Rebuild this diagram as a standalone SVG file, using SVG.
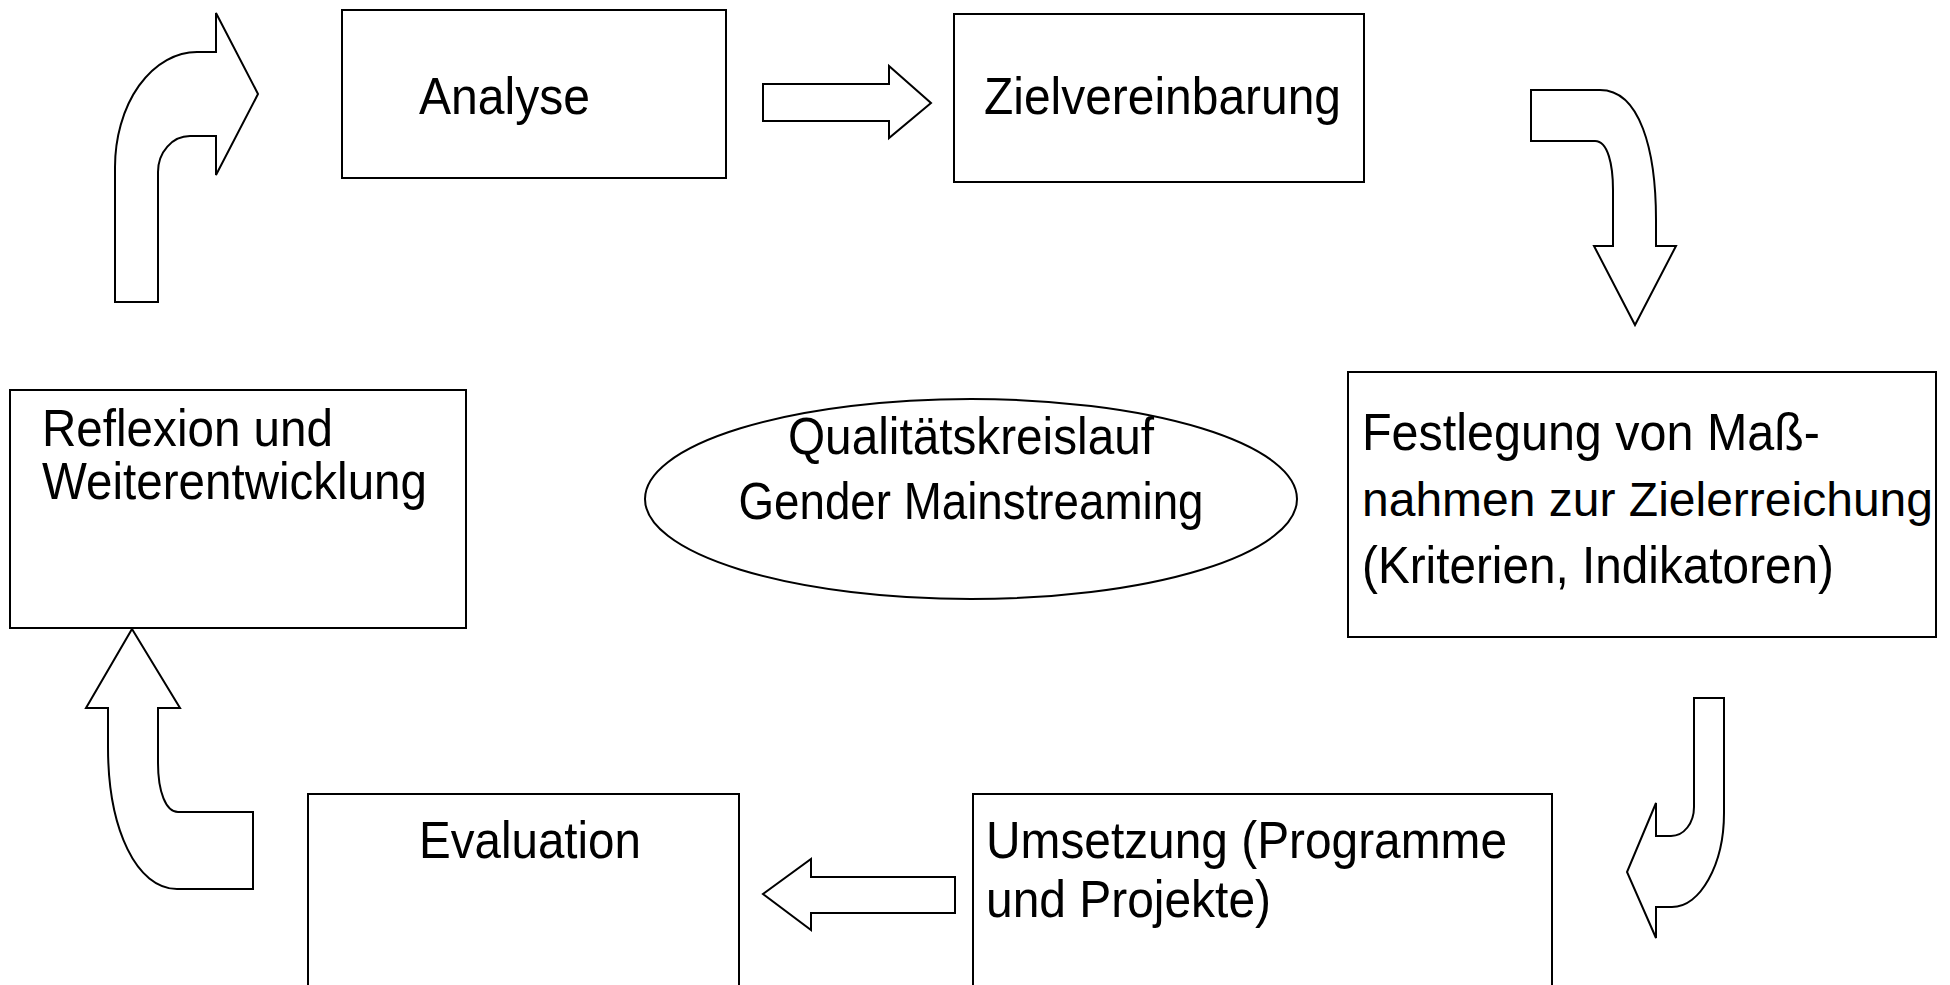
<svg xmlns="http://www.w3.org/2000/svg" width="1950" height="985" viewBox="0 0 1950 985">
<style>
.box{fill:#fff;stroke:#000;stroke-width:2}
.arrow{fill:#fff;stroke:#000;stroke-width:2;stroke-linejoin:miter}
text{font-family:"Liberation Sans",Arial,sans-serif;font-size:52px;fill:#000}
.c{text-anchor:middle}
.s{font-size:48px}
</style>
<rect width="1950" height="985" fill="#fff"/>
<g id="connectors">
<path class="arrow" d="M115,302 L158,302 L158,172 A32,36 0 0 1 190,136 L216,136 L216,175 L258,94 L216,13 L216,52 L197,52 A82,115 0 0 0 115,167 Z"/>
<path class="arrow" d="M763,84 L889,84 L889,66 L931,103 L889,138 L889,121 L763,121 Z"/>
<path class="arrow" d="M1531,90 L1600,90 C1640,90 1656,150 1656,220 L1656,246 L1676,246 L1635,325 L1594,246 L1613,246 L1613,190 C1613,165 1608,141 1595,141 L1531,141 Z"/>
<path class="arrow" d="M1694,698 L1724,698 L1724,813 C1724,865 1700,907 1672,907 L1656,907 L1656,938 L1627,872 L1656,803 L1656,836 L1671,836 C1684,836 1694,823 1694,807 Z"/>
<path class="arrow" d="M955,877 L811,877 L811,859 L763,894 L811,930 L811,913 L955,913 Z"/>
<path class="arrow" d="M132,629 L180,708 L158,708 L158,763 C158,792 166,812 178,812 L253,812 L253,889 L177,889 C137,889 108,830 108,747 L108,708 L86,708 Z"/>
</g>
<g id="analyse">
<rect class="box" x="342" y="10" width="384" height="168"/>
<text x="419" y="114" textLength="171" lengthAdjust="spacingAndGlyphs">Analyse</text>
</g>
<g id="zielvereinbarung">
<rect class="box" x="954" y="14" width="410" height="168"/>
<text x="984" y="114" textLength="357" lengthAdjust="spacingAndGlyphs">Zielvereinbarung</text>
</g>
<g id="festlegung">
<rect class="box" x="1348" y="372" width="588" height="265"/>
<text x="1362" y="450" textLength="458" lengthAdjust="spacingAndGlyphs">Festlegung von Maß-</text>
<text class="s" x="1362" y="516">nahmen zur Zielerreichung</text>
<text x="1362" y="583" textLength="472" lengthAdjust="spacingAndGlyphs">(Kriterien, Indikatoren)</text>
</g>
<g id="umsetzung">
<rect class="box" x="973" y="794" width="579" height="200"/>
<text x="986" y="858" textLength="521" lengthAdjust="spacingAndGlyphs">Umsetzung (Programme</text>
<text x="986" y="917" textLength="285" lengthAdjust="spacingAndGlyphs">und Projekte)</text>
</g>
<g id="evaluation">
<rect class="box" x="308" y="794" width="431" height="200"/>
<text x="419" y="858" textLength="222" lengthAdjust="spacingAndGlyphs">Evaluation</text>
</g>
<g id="reflexion">
<rect class="box" x="10" y="390" width="456" height="238"/>
<text x="42" y="446" textLength="291" lengthAdjust="spacingAndGlyphs">Reflexion und</text>
<text x="42" y="499" textLength="385" lengthAdjust="spacingAndGlyphs">Weiterentwicklung</text>
</g>
<g id="qualitaetskreislauf">
<ellipse class="box" cx="971" cy="499" rx="326" ry="100"/>
<text class="c" x="971" y="454" textLength="366" lengthAdjust="spacingAndGlyphs">Qualitätskreislauf</text>
<text class="c" x="971" y="519" textLength="465" lengthAdjust="spacingAndGlyphs">Gender Mainstreaming</text>
</g>
</svg>
